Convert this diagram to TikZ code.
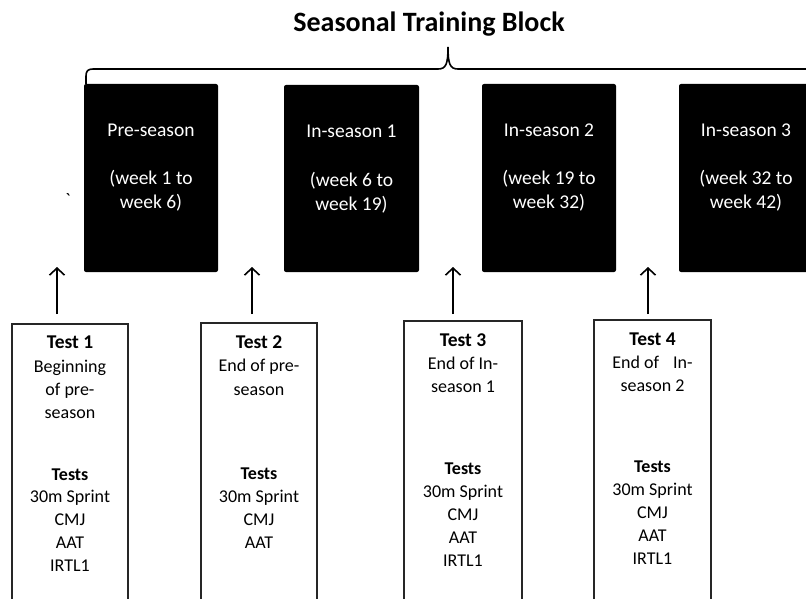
\documentclass[tikz,border=0pt]{standalone}
\usepackage{fontspec}
\setmainfont{Carlito}
\newfontfamily\rawfont[Ligatures=TeXOff]{Carlito}
\usetikzlibrary{arrows.meta}
\begin{document}
\begin{tikzpicture}[x=1pt,y=-1pt,
  period/.style={fill=black, rounded corners=2pt, inner sep=0pt, minimum width=134pt, minimum height=188pt},
  periodtext/.style={anchor=base, text=white, font=\fontsize{19.5}{23.5}\selectfont, inner sep=0pt},
  testbox/.style={draw=black!85, line width=1.3pt, inner sep=0pt, minimum width=116pt, minimum height=290pt},
  testtext/.style={anchor=base, font=\fontsize{18}{23}\selectfont, inner sep=0pt},
  testhead/.style={anchor=base, font=\fontsize{19.5}{23}\selectfont\bfseries, inner sep=0pt},
  testsub/.style={anchor=base, font=\fontsize{18}{23}\selectfont\bfseries, inner sep=0pt},
  uparrow/.style={-{Straight Barb[length=7pt,width=15pt,line width=1.6pt]}, line width=1.6pt},
  brace/.style={line width=1.6pt}]
\useasboundingbox (0,0) rectangle (806,599);
\clip (0,0) rectangle (806,599);

% title and brace
\node[anchor=base, inner sep=0pt, font=\fontsize{28}{34}\selectfont\bfseries] (title) at (429,32) {Seasonal Training Block};
\draw[brace] (86,84) -- (86,76) .. controls (86,71) and (88,69) .. (93,69) -- (438,69)
  .. controls (446,69) and (448,64) .. (448,47)
  .. controls (448,64) and (450,69) .. (458,69) -- (812,69);

% periods
\node[period] (pre) at (151,178) {};
\node[period, minimum width=135pt, minimum height=187pt] (in1) at (351.5,178.5) {};
\node[period] (in2) at (549,178) {};
\node[period] (in3) at (746,178) {};

\node[periodtext] (pre1) at (151,137) {Pre-season};
\node[periodtext] (pre2) at (151,184) {(week 1 to};
\node[periodtext] (pre3) at (151,208) {week 6)};
\node[periodtext] (in11) at (351.5,138) {In-season 1};
\node[periodtext] (in12) at (351.5,186) {(week 6 to};
\node[periodtext] (in13) at (351.5,210) {week 19)};
\node[periodtext] (in21) at (549,137) {In-season 2};
\node[periodtext] (in22) at (549,184) {(week 19 to};
\node[periodtext] (in23) at (549,208) {week 32)};
\node[periodtext] (in31) at (746,137) {In-season 3};
\node[periodtext] (in32) at (746,184) {(week 32 to};
\node[periodtext] (in33) at (746,208) {week 42)};

\node[inner sep=0pt, font=\rawfont\fontsize{19}{23}\selectfont] (tick) at (68,200) {\symbol{96}};

% test boxes
\node[testbox] (t1) at (70,469) {};
\node[testbox] (t2) at (259,468) {};
\node[testbox, minimum width=118pt] (t3) at (463,466) {};
\node[testbox, minimum width=117pt] (t4) at (652.5,465) {};

% test 1
\node[testhead] (t1l1) at (70,348) {Test 1};
\node[testtext] (t1l2) at (70,372) {Beginning};
\node[testtext] (t1l3) at (70,395) {of pre-};
\node[testtext] (t1l4) at (70,418) {season};
\node[testsub] (t1l5) at (70,480) {Tests};
\node[testtext] (t1l6) at (70,502) {30m Sprint};
\node[testtext] (t1l7) at (70,525) {CMJ};
\node[testtext] (t1l8) at (70,548) {AAT};
\node[testtext] (t1l9) at (70,571) {IRTL1};
% test 2
\node[testhead] (t2l1) at (259,348) {Test 2};
\node[testtext] (t2l2) at (259,371) {End of pre-};
\node[testtext] (t2l3) at (259,395) {season};
\node[testsub] (t2l5) at (259,479) {Tests};
\node[testtext] (t2l6) at (259,502) {30m Sprint};
\node[testtext] (t2l7) at (259,525) {CMJ};
\node[testtext] (t2l8) at (259,548) {AAT};
% test 3
\node[testhead] (t3l1) at (463,346) {Test 3};
\node[testtext] (t3l2) at (463,369) {End of In-};
\node[testtext] (t3l3) at (463,392) {season 1};
\node[testsub] (t3l5) at (463,474) {Tests};
\node[testtext] (t3l6) at (463,497) {30m Sprint};
\node[testtext] (t3l7) at (463,520) {CMJ};
\node[testtext] (t3l8) at (463,543) {AAT};
\node[testtext] (t3l9) at (463,566) {IRTL1};
% test 4
\node[testhead] (t4l1) at (652.5,345) {Test 4};
\node[testtext] (t4l2) at (652.5,368) {End of\hspace{14pt}In-};
\node[testtext] (t4l3) at (652.5,391) {season 2};
\node[testsub] (t4l5) at (652.5,472) {Tests};
\node[testtext] (t4l6) at (652.5,495) {30m Sprint};
\node[testtext] (t4l7) at (652.5,518) {CMJ};
\node[testtext] (t4l8) at (652.5,541) {AAT};
\node[testtext] (t4l9) at (652.5,564) {IRTL1};

% arrows
\coordinate (a1b) at (57,314);  \coordinate (a1t) at (57,267);
\coordinate (a2b) at (252,314); \coordinate (a2t) at (252,267);
\coordinate (a3b) at (453,314); \coordinate (a3t) at (453,267);
\coordinate (a4b) at (648,314); \coordinate (a4t) at (648,267);
\draw[uparrow] (a1b) -- (a1t);
\draw[uparrow] (a2b) -- (a2t);
\draw[uparrow] (a3b) -- (a3t);
\draw[uparrow] (a4b) -- (a4t);
\end{tikzpicture}
\end{document}
